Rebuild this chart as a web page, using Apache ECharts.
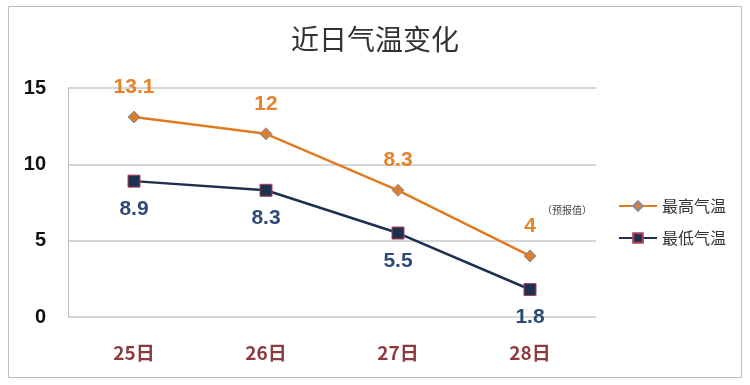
<!DOCTYPE html>
<html><head><meta charset="utf-8">
<script src="https://cdn.jsdelivr.net/npm/echarts@6/dist/echarts.min.js"></script>
<style>html,body{margin:0;padding:0;background:#fff}#c{width:750px;height:385px}</style>
</head><body><div id="c"></div>
<script>
const categories = ['25日','26日','27日','28日'];
const highTemps = [13.1, 12, 8.3, 4];
const lowTemps = [8.9, 8.3, 5.5, 1.8];
const yTicks = [0, 5, 10, 15];
const chart = echarts.init(document.getElementById('c'));
const font = '"Noto Sans CJK SC", "Liberation Sans", sans-serif';
const numFont = '"Liberation Sans", sans-serif';
chart.setOption({
  animation: false,
  backgroundColor: '#fff',
  title: {text: '近日气温变化', left: 'center', top: 20, textStyle: {fontFamily: font, fontSize: 28, fontWeight: 'normal', color: '#333'}},
  legend: {orient: 'vertical', left: 613, top: 193, itemGap: 16, itemWidth: 38, itemHeight: 12,
    textStyle: {fontFamily: font, fontSize: 16, color: '#333'},
    data: ['最高气温', '最低气温']},
  grid: {left: 68, right: 154, top: 88, bottom: 68},
  xAxis: {type: 'category', data: categories, boundaryGap: true,
    axisLine: {show: false}, axisTick: {show: false},
    axisLabel: {margin: 26, fontFamily: font, fontSize: 19, fontWeight: 'bold', color: '#8B3A3F'}},
  yAxis: {type: 'value', min: 0, max: 15, interval: 5,
    axisLine: {show: true, lineStyle: {color: '#bbb'}}, axisTick: {show: false},
    splitLine: {lineStyle: {color: '#c8c8c8', width: 1.5}},
    axisLabel: {margin: 22, fontFamily: numFont, fontSize: 20, fontWeight: 'bold', color: '#111',
      formatter: v => yTicks.includes(v) ? String(v) : ''}},
  series: [
    {name: '最高气温', type: 'line', data: highTemps, symbol: 'diamond', symbolSize: 12,
      lineStyle: {color: '#E07B22', width: 2.5}, itemStyle: {color: '#D98030', borderColor: '#8a8aa0', borderWidth: 1},
      label: {show: true, position: 'top', distance: 13, fontFamily: numFont, fontSize: 21, fontWeight: 'bold', color: '#E4832A'}},
    {name: '最低气温', type: 'line', data: lowTemps, symbol: 'rect', symbolSize: 12,
      lineStyle: {color: '#1E3050', width: 2.5}, itemStyle: {color: '#1E3050', borderColor: '#b0405a', borderWidth: 1},
      label: {show: true, position: 'bottom', distance: 11, fontFamily: numFont, fontSize: 21, fontWeight: 'bold', color: '#2E4A78'}}
  ]
});
const p = chart.convertToPixel({xAxisIndex: 0, yAxisIndex: 0}, [categories[3], highTemps[3]]);
chart.setOption({graphic: [{type: 'rect', shape: {x: 8.5, y: 6.5, width: 733, height: 371}, style: {fill: 'none', stroke: '#bbb', lineWidth: 1}, silent: true},
  {type: 'text', x: p[0] + 12, y: p[1] - 51, style: {text: '（预报值）', fontFamily: font, fontSize: 10, fill: '#444'}, silent: true}]});
</script></body></html>
